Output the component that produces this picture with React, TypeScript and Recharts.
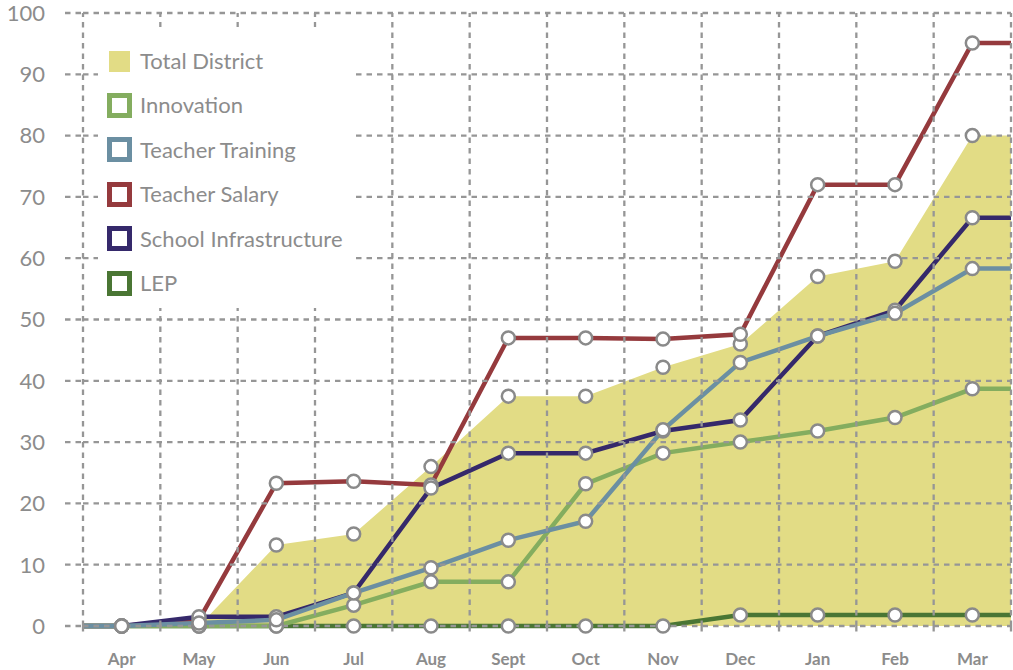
import React from 'react';
import { ComposedChart, Area, Line, XAxis, YAxis, ReferenceLine } from 'recharts';

const months = ['Apr', 'May', 'Jun', 'Jul', 'Aug', 'Sept', 'Oct', 'Nov', 'Dec', 'Jan', 'Feb', 'Mar'];
const totalDistrict = [0, 0, 13.2, 15, 26, 37.5, 37.5, 42.2, 46, 57, 59.5, 80];
const innovation = [0, 0, 0, 3.4, 7.2, 7.2, 23.2, 28.2, 30, 31.8, 34, 38.7];
const teacherTraining = [0, 0.5, 1, 5.4, 9.5, 14, 17.1, 32, 43, 47.3, 51, 58.3];
const teacherSalary = [0, 1, 23.3, 23.6, 23, 47, 47, 46.8, 47.6, 72, 72, 95.1];
const schoolInfrastructure = [0, 1.5, 1.5, 5.4, 22.5, 28.2, 28.2, 31.8, 33.6, 47.3, 51.5, 66.6];
const lep = [0, 0, 0, 0, 0, 0, 0, 0, 1.8, 1.8, 1.8, 1.8];
const yTicks = [0, 10, 20, 30, 40, 50, 60, 70, 80, 90, 100];

// drawing order, bottom first
const series = [
  { key: 'salary', name: 'Teacher Salary', values: teacherSalary, color: '#953a3d' },
  { key: 'lep', name: 'LEP', values: lep, color: '#4a7634' },
  { key: 'infra', name: 'School Infrastructure', values: schoolInfrastructure, color: '#35296b' },
  { key: 'innovation', name: 'Innovation', values: innovation, color: '#84ad5f' },
  { key: 'training', name: 'Teacher Training', values: teacherTraining, color: '#6b8fa2' },
];

const legendItems = [
  { name: 'Total District', color: '#e2dc85', solid: true },
  { name: 'Innovation', color: '#84ad5f' },
  { name: 'Teacher Training', color: '#6b8fa2' },
  { name: 'Teacher Salary', color: '#953a3d' },
  { name: 'School Infrastructure', color: '#35296b' },
  { name: 'LEP', color: '#4a7634' },
];

// rows: one per month, plus an edge point on each side of the plot (no marker)
const buildRow = (x: number, i: number, edge: boolean) => {
  const row: any = { x, edge, total: totalDistrict[i] };
  series.forEach((s) => { row[s.key] = s.values[i]; });
  return row;
};
const data = [
  buildRow(-0.5, 0, true),
  ...months.map((_, i) => buildRow(i, i, false)),
  buildRow(months.length - 0.5, months.length - 1, true),
];

const xTicks: number[] = [];
for (let v = -0.5; v <= months.length - 0.5; v += 0.5) xTicks.push(v);
const gridX = xTicks.filter((v) => !Number.isInteger(v));

const GRID = '#969696';
const TEXT = '#8c8c8c';
const DASH = '5.5 5';
const GW = 2.3;

const MonthTick: React.FC<any> = ({ x, y, payload }) => {
  const v = payload.value;
  if (!Number.isInteger(v)) {
    return <line x1={x} y1={y} x2={x} y2={y + 7} stroke={GRID} strokeWidth={GW} strokeDasharray={DASH} />;
  }
  return (
    <text x={x} y={y + 39} textAnchor="middle" fill={TEXT} fontSize={17} fontWeight={700} fontFamily="Lato">
      {months[v]}
    </text>
  );
};

const Marker: React.FC<any> = (props) => {
  const { cx, cy, payload, index, dataKey } = props;
  if (payload.edge || cx == null) return <g key={`${dataKey}-${index}`} />;
  return <circle key={`${dataKey}-${index}`} cx={cx} cy={cy} r={6.5} fill="#fff" stroke="#8a8a8a" strokeWidth={2.5} />;
};

const App: React.FC = () => {
  return (
    <div style={{ position: 'absolute', left: 0, top: 0, width: 1013, height: 670, background: '#fff' }}>
      <ComposedChart width={1013} height={670} data={data} margin={{ top: 13, right: 2, left: 0, bottom: 0 }}>
        <XAxis
          dataKey="x"
          type="number"
          domain={[-0.5, months.length - 0.5]}
          ticks={xTicks}
          interval={0}
          axisLine={false}
          tickLine={false}
          tickSize={0}
          tickMargin={0}
          height={44}
          tick={<MonthTick />}
        />
        <YAxis
          domain={[0, 100]}
          ticks={yTicks}
          width={83}
          axisLine={false}
          tickSize={18}
          tickMargin={20}
          tickLine={{ stroke: GRID, strokeWidth: GW, strokeDasharray: DASH }}
          tick={{ fill: TEXT, fontSize: 22, fontFamily: 'Lato' }}
        />
        <Area
          dataKey="total"
          type="linear"
          stroke="none"
          fill="#e2dc85"
          fillOpacity={1}
          dot={false}
          activeDot={false}
          isAnimationActive={false}
        />
        {series.map((s) => (
          <Line
            key={s.key}
            dataKey={s.key}
            type="linear"
            stroke={s.color}
            strokeWidth={4.5}
            dot={false}
            activeDot={false}
            isAnimationActive={false}
          />
        ))}
        {yTicks.map((v) => (
          <ReferenceLine key={`h${v}`} y={v} stroke={GRID} strokeWidth={GW} strokeDasharray={DASH} />
        ))}
        {gridX.map((v) => (
          <ReferenceLine key={`v${v}`} x={v} stroke={GRID} strokeWidth={GW} strokeDasharray={DASH} />
        ))}
        {['total', ...series.map((s) => s.key)].map((k) => (
          <Line
            key={`m-${k}`}
            dataKey={k}
            stroke="none"
            dot={<Marker />}
            activeDot={false}
            legendType="none"
            isAnimationActive={false}
          />
        ))}
      </ComposedChart>
      <div style={{ position: 'absolute', left: 98, top: 27, width: 254, height: 281, background: '#fff' }} />
      <div style={{ position: 'absolute', left: 0, top: 0, fontFamily: 'Lato', color: TEXT, fontSize: 22 }}>
        {legendItems.map((it, i) => {
          const cy = 61 + i * 44.4;
          return (
            <div key={it.name} style={{ position: 'absolute', top: cy - 13, left: 107, height: 26, display: 'flex', alignItems: 'center', whiteSpace: 'nowrap' }}>
              {it.solid ? (
                <div style={{ width: 21, height: 21, margin: '0 2px', background: it.color }} />
              ) : (
                <div style={{ width: 15, height: 15, border: `5px solid ${it.color}`, background: '#fff' }} />
              )}
              <span style={{ marginLeft: 8, lineHeight: '26px' }}>{it.name}</span>
            </div>
          );
        })}
      </div>
    </div>
  );
};

export default App;
